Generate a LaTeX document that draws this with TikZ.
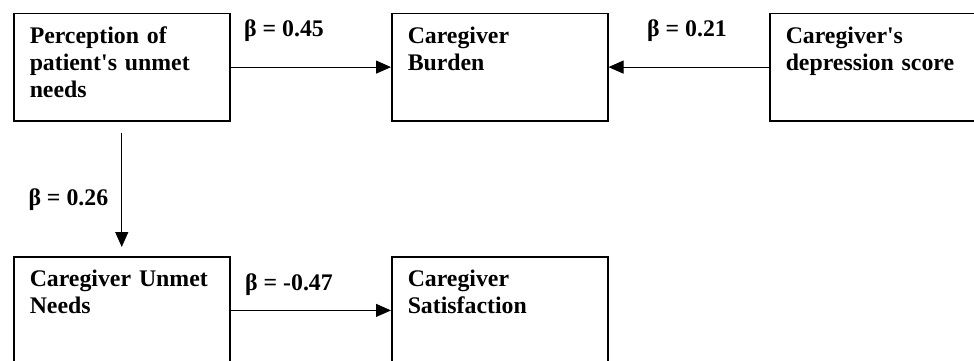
\documentclass[tikz,border=0pt]{standalone}
\usepackage{fontspec}
\setmainfont{Liberation Serif}
\usetikzlibrary{arrows.meta}

\begin{document}
\begin{tikzpicture}[x=1pt, y=-1pt,
    every node/.style={font=\fontsize{23.8}{27}\selectfont\bfseries},
    factor/.style={draw, line width=1.5pt, anchor=north west, align=left, text width=184pt, inner xsep=16pt, inner ysep=0pt, text height=30pt, text depth=77.3pt},
    coef/.style={anchor=base west, inner sep=0pt},
    effect/.style={draw, line width=1pt, -{Triangle[length=15pt, width=13pt]}}]
    \useasboundingbox (0,0) rectangle (974,360);
    \clip (0,0) rectangle (974,360);
    % Top row
    \node[factor] (perc) at (13,12.7) {Perception of\\patient\textquotesingle s unmet\\needs};
    \node[factor] (burden) at (391,12.7) {Caregiver\\Burden};
    \node[factor] (depr) at (769,12.7) {Caregiver\textquotesingle s\\depression score};
    % Bottom row
    \node[factor] (cgneeds) at (13,256) {Caregiver Unmet\\Needs};
    \node[factor] (satis) at (391,256) {Caregiver\\Satisfaction};
    % Paths
    \draw[effect] (perc) -- (burden);
    \draw[effect] (depr) -- (burden);
    \draw[effect, shorten <=11pt, shorten >=9pt] (perc) -- (cgneeds);
    \draw[effect] (cgneeds) -- (satis);
    % Coefficients
    \node[coef] (b45) at (244,36.7) {β = 0.45};
    \node[coef] (b21) at (647,36.7) {β = 0.21};
    \node[coef] (b26) at (28.3,205.7) {β = 0.26};
    \node[coef] (b47) at (245,290.7) {β = -0.47};
\end{tikzpicture}
\end{document}
